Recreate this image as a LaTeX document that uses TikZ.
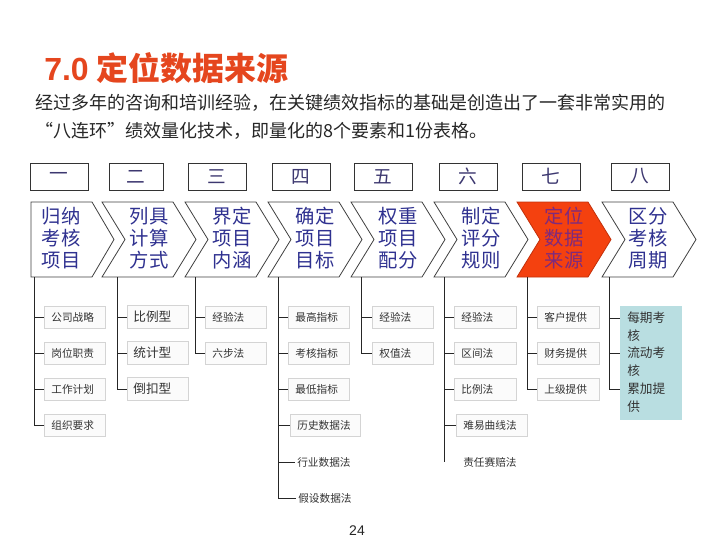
\documentclass[tikz,border=0pt]{standalone}
\usepackage{fontspec}
\setmainfont{Noto Sans CJK SC}
\newfontfamily\arialf{Liberation Sans}
\definecolor{titlecol}{HTML}{E5461E}
\definecolor{navy}{HTML}{2F3190}
\definecolor{numcol}{HTML}{3D3870}
\definecolor{redfill}{HTML}{F4410F}
\definecolor{reddraw}{HTML}{C2300A}
\definecolor{redtext}{HTML}{7E2A7E}
\definecolor{boxgray}{HTML}{D4D4D4}
\definecolor{boxfill}{HTML}{FBFBFB}
\definecolor{leaftext}{HTML}{333333}
\definecolor{bluefill}{HTML}{B9DEE1}
\begin{document}
\begin{tikzpicture}[x=0.75pt,y=-0.75pt,
  numbox/.style={draw=black!80, line width=0.6pt, minimum width=43.5pt, minimum height=20.25pt, inner sep=0, text=numcol, font=\fontsize{14}{16}\selectfont},
  chev/.style={draw=black!75, line width=0.6pt, fill=white},
  chevtext/.style={text=navy, font=\fontsize{14.5}{16.5}\selectfont, align=center, inner sep=0},
  leaf/.style={draw=boxgray, fill=boxfill, line width=0.6pt, anchor=west, minimum height=16.5pt, inner ysep=0, inner xsep=5.25pt, text width=35.25pt, align=left, text=leaftext, font=\fontsize{8}{9}\selectfont},
  plain/.style={anchor=west, inner sep=0, text=leaftext, font=\fontsize{8}{9}\selectfont},
  tree/.style={draw=black!85, line width=0.75pt}]
\useasboundingbox (0,0) rectangle (720,540);

% title and intro
\node[anchor=west, inner sep=0, text=titlecol, font=\bfseries\fontsize{24}{28}\selectfont] (title) at (44,68) {{\arialf 7.0} 定位数据来源};
\node[anchor=west, inner sep=0, text=black!85, font=\fontsize{13.5}{16}\selectfont] (intro1) at (35,103) {经过多年的咨询和培训经验，在关键绩效指标的基础是创造出了一套非常实用的};
\node[anchor=west, inner sep=0, text=black!85, font=\fontsize{13.5}{16}\selectfont] (intro2) at (35,131) {“八连环”绩效量化技术，即量化的8个要素和1份表格。};

% number boxes
\node[numbox] (n1) at (59,176.5) {一};
\node[numbox, minimum width=40.5pt] (n2) at (136,176.5) {二};
\node[numbox] (n3) at (217,176.5) {三};
\node[numbox] (n4) at (301,176.5) {四};
\node[numbox] (n5) at (383,176.5) {五};
\node[numbox] (n6) at (468,176.5) {六};
\node[numbox] (n7) at (551,176.5) {七};
\node[numbox] (n8) at (640,176.5) {八};

% chevrons
\draw[chev] (31,202) -- (92,202) -- (114,239.5) -- (92,277) -- (31,277) -- cycle;
\foreach \L in {102,185,268,351,434,602}{
  \draw[chev] (\L,202) -- (\L+71,202) -- (\L+94,239.5) -- (\L+71,277) -- (\L,277) -- (\L+23,239.5) -- cycle;
}
\draw[chev, fill=redfill, draw=reddraw] (517,202) -- (588,202) -- (611,239.5) -- (588,277) -- (517,277) -- (540,239.5) -- cycle;

\node[chevtext] (c1) at (61,238) {归纳\\考核\\项目};
\node[chevtext] (c2) at (149,238) {列具\\计算\\方式};
\node[chevtext] (c3) at (232,238) {界定\\项目\\内涵};
\node[chevtext] (c4) at (315,238) {确定\\项目\\目标};
\node[chevtext] (c5) at (398,238) {权重\\项目\\配分};
\node[chevtext] (c6) at (481,238) {制定\\评分\\规则};
\node[chevtext, text=redtext] (c7) at (564,238) {定位\\数据\\来源};
\node[chevtext] (c8) at (648,238) {区分\\考核\\周期};

% column tops
\coordinate (t1) at (34,277);
\coordinate (t2) at (117,277);
\coordinate (t3) at (195,277);
\coordinate (t4) at (278,277);
\coordinate (t5) at (361,277);
\coordinate (t6) at (444,277);
\coordinate (t7) at (527,277);
\coordinate (t8) at (609,277);

% column 1
\node[leaf] (a1) at (44,317) {公司战略};
\node[leaf] (a2) at (44,353) {岗位职责};
\node[leaf] (a3) at (44,389) {工作计划};
\node[leaf] (a4) at (44,425) {组织要求};
\draw[tree] (t1) |- (a4.west);
\foreach \n in {a1,a2,a3}{\draw[tree] (t1 |- \n.west) -- (\n.west);}

% column 2
\node[leaf, minimum height=17.25pt, inner xsep=4.5pt, text width=36.75pt, font=\fontsize{9.5}{11}\selectfont] (b1) at (127,317) {比例型};
\node[leaf, minimum height=17.25pt, inner xsep=4.5pt, text width=36.75pt, font=\fontsize{9.5}{11}\selectfont] (b2) at (127,353) {统计型};
\node[leaf, minimum height=17.25pt, inner xsep=4.5pt, text width=36.75pt, font=\fontsize{9.5}{11}\selectfont] (b3) at (127,389) {倒扣型};
\draw[tree] (t2) |- (b3.west);
\foreach \n in {b1,b2}{\draw[tree] (t2 |- \n.west) -- (\n.west);}

% column 3
\node[leaf] (d1) at (205,317) {经验法};
\node[leaf] (d2) at (205,353) {六步法};
\draw[tree] (t3) |- (d2.west);
\draw[tree] (t3 |- d1.west) -- (d1.west);

% column 4
\node[leaf] (e1) at (288,317) {最高指标};
\node[leaf] (e2) at (288,353) {考核指标};
\node[leaf] (e3) at (288,389) {最低指标};
\node[leaf, text width=42pt] (e4) at (290,425) {历史数据法};
\node[plain] (e5) at (297,462) {行业数据法};
\node[plain] (e6) at (298,498) {假设数据法};
\coordinate (e5t) at (295,462);
\coordinate (e6t) at (296,498);
\draw[tree] (t4) |- (e6t);
\foreach \n in {e1,e2,e3,e4}{\draw[tree] (t4 |- \n.west) -- (\n.west);}
\draw[tree] (t4 |- e5t) -- (e5t);

% column 5
\node[leaf] (f1) at (372,317) {经验法};
\node[leaf] (f2) at (372,353) {权值法};
\draw[tree] (t5) |- (f2.west);
\draw[tree] (t5 |- f1.west) -- (f1.west);

% column 6
\node[leaf, text width=36pt] (g1) at (454,317) {经验法};
\node[leaf, text width=36pt] (g2) at (454,353) {区间法};
\node[leaf, text width=36pt] (g3) at (454,389) {比例法};
\node[leaf, text width=42.75pt] (g4) at (456,425) {难易曲线法};
\node[plain] (g5) at (463,462) {责任赛赔法};
\draw[tree] (t6) -- (t6 |- g5.west);
\foreach \n in {g1,g2,g3,g4}{\draw[tree] (t6 |- \n.west) -- (\n.west);}

% column 7
\node[leaf, text width=36pt] (h1) at (537,317) {客户提供};
\node[leaf, text width=36pt] (h2) at (537,353) {财务提供};
\node[leaf, text width=36pt] (h3) at (537,389) {上级提供};
\draw[tree] (t7) |- (h3.west);
\foreach \n in {h1,h2}{\draw[tree] (t7 |- \n.west) -- (\n.west);}

% column 8
\fill[bluefill] (620,306) rectangle (682,420);
\coordinate (k1) at (620,318);
\coordinate (k2) at (620,353);
\coordinate (k3) at (620,389);
\node[anchor=west, inner sep=0, align=left, text=leaftext, font=\fontsize{9.5}{13.5}\selectfont] (p1) at (627,327) {每期考\\核};
\node[anchor=west, inner sep=0, align=left, text=leaftext, font=\fontsize{9.5}{13.5}\selectfont] (p2) at (627,362) {流动考\\核};
\node[anchor=west, inner sep=0, align=left, text=leaftext, font=\fontsize{9.5}{13.5}\selectfont] (p3) at (627,398) {累加提\\供};
\draw[tree] (t8) |- (k3);
\foreach \n in {k1,k2}{\draw[tree] (t8 |- \n) -- (\n);}

% page number
\node[inner sep=0, text=black!85, font=\arialf\fontsize{10.5}{12}\selectfont] (pg) at (357,531) {24};
\end{tikzpicture}
\end{document}
